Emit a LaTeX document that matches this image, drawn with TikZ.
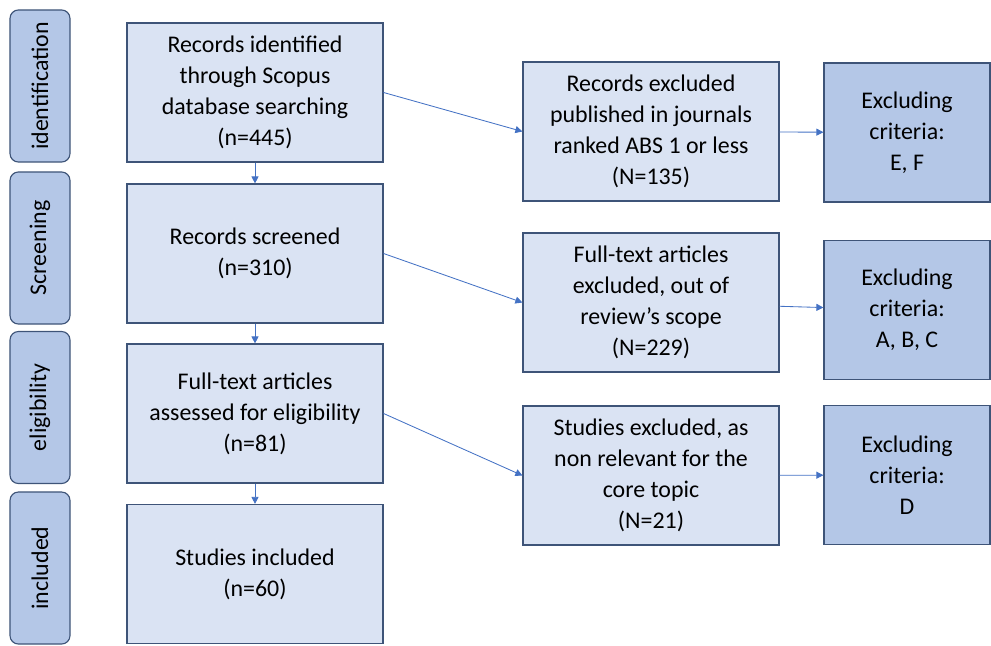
\documentclass[tikz,border=0pt]{standalone}
\usepackage{fontspec}
\setmainfont{Carlito}
\usepackage{tikz}
\usetikzlibrary{arrows.meta}

\definecolor{boxfill}{HTML}{DAE3F3}
\definecolor{critfill}{HTML}{B4C7E7}
\definecolor{boxline}{HTML}{3E5478}
\definecolor{arrowblue}{HTML}{4472C4}

\tikzset{
  phase/.style={draw=boxline, fill=critfill, line width=0.8pt, rounded corners=6pt,
    minimum width=1.5cm, minimum height=3.8cm, inner sep=0pt},
  stagebox/.style={draw=boxline, fill=boxfill, line width=0.8pt, align=center,
    minimum width=6.4cm, minimum height=3.475cm, inner sep=2pt},
  critbox/.style={draw=boxline, fill=critfill, line width=0.8pt, align=center,
    minimum width=4.15cm, minimum height=3.475cm, inner sep=2pt},
  flow/.style={draw=arrowblue, line width=0.6pt, -{Triangle[length=5pt,width=5pt]}}
}

\begin{document}
\begin{tikzpicture}[x=0.025cm, y=-0.025cm, font=\fontsize{17}{22}\selectfont]
\useasboundingbox (0,0) rectangle (991,645);
% phases
\node [phase] (ph1) at (40,86) {\rotatebox{90}{identification}};
\node [phase] (ph2) at (40,248) {\rotatebox{90}{Screening}};
\node [phase] (ph3) at (40,407.5) {\rotatebox{90}{eligibility}};
\node [phase] (ph4) at (40,568) {\rotatebox{90}{included}};
% main flow
\node [stagebox] (rec) at (255,92.5) {Records identified\\through Scopus\\database searching\\(n=445)};
\node [stagebox] (scr) at (255,253.5) {Records screened\\(n=310)};
\node [stagebox] (full) at (255,413.5) {Full-text articles\\assessed for eligibility\\(n=81)};
\node [stagebox] (incl) at (255,574) {Studies included\\(n=60)};
% exclusions
\node [stagebox] (exa) at (651,131.5) {Records excluded\\published in journals\\ranked ABS 1 or less\\(N=135)};
\node [stagebox] (exb) at (651,302.5) {Full-text articles\\excluded, out of\\review’s scope\\(N=229)};
\node [stagebox] (exc) at (651,475.5) {Studies excluded, as\\non relevant for the\\core topic\\(N=21)};
% criteria
\node [critbox] (cra) at (907,132.5) {Excluding\\criteria:\\E, F};
\node [critbox] (crb) at (907,310) {Excluding\\criteria:\\A, B, C};
\node [critbox] (crc) at (907,475) {Excluding\\criteria:\\D};
% arrows
\draw [flow] (rec) -- (scr);
\draw [flow] (scr) -- (full);
\draw [flow] (full) -- (incl);
\draw [flow] (rec.east) -- (exa.west);
\draw [flow] (scr.east) -- (exb.west);
\draw [flow] (full.east) -- (exc.west);
\draw [flow] (exa) -- (cra);
\draw [flow] (exb) -- (crb);
\draw [flow] (exc) -- (crc);
\end{tikzpicture}
\end{document}
